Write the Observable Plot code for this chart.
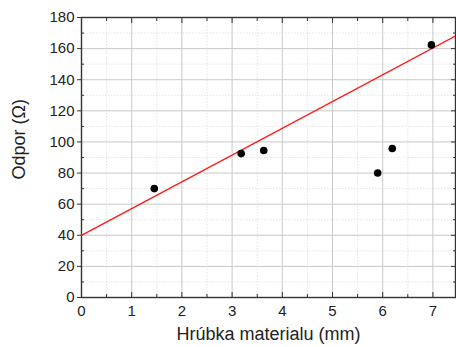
<!DOCTYPE html>
<html>
<head>
<meta charset="utf-8">
<script src="https://cdn.jsdelivr.net/npm/d3@7"></script>
<script src="https://cdn.jsdelivr.net/npm/@observablehq/plot@0.6"></script>
<style>
  html, body { margin: 0; padding: 0; background: #fff; }
  #chart svg { display: block; }
</style>
</head>
<body>
<div id="chart"></div>
<script>
// Data
const thickness = [1.45, 3.18, 3.63, 5.90, 6.19, 6.97];       // Hrúbka materialu (mm)
const resistance = [70, 92.5, 94.5, 80, 95.8, 162.4];         // Odpor (Ω)
const fitX = [0, 7.45];                                        // fit line endpoints (x)
const fitY = [40, 168.1];                                      // fit line endpoints (y)

const xMajor = [0, 1, 2, 3, 4, 5, 6, 7];
const xMinor = [0.5, 1.5, 2.5, 3.5, 4.5, 5.5, 6.5];
const yMajor = [0, 20, 40, 60, 80, 100, 120, 140, 160, 180];
const yMinor = [10, 30, 50, 70, 90, 110, 130, 150, 170];

const xLabel = "Hrúbka materialu (mm)";
const yLabel = "Odpor (Ω)";

const points = thickness.map((x, i) => ({x, y: resistance[i]}));
const fit = fitX.map((x, i) => ({x, y: fitY[i]}));

const chart = Plot.plot({
  width: 456,
  height: 347,
  marginLeft: 81,
  marginRight: 1,
  marginTop: 17,
  marginBottom: 50,
  style: {fontFamily: "'Liberation Sans', Arial, sans-serif", fontSize: "15px", color: "#222", background: "#fff"},
  x: {domain: [0, 7.45]},
  y: {domain: [0, 180]},
  marks: [
    Plot.gridX(xMinor, {stroke: "#ddd", strokeOpacity: 1, strokeDasharray: "1.5,1.5", strokeWidth: 0.8}),
    Plot.gridY(yMinor, {stroke: "#ddd", strokeOpacity: 1, strokeDasharray: "1.5,1.5", strokeWidth: 0.8}),
    Plot.gridX(xMajor, {stroke: "#c8c8c8", strokeOpacity: 1, strokeWidth: 1}),
    Plot.gridY(yMajor, {stroke: "#c8c8c8", strokeOpacity: 1, strokeWidth: 1}),
    // bottom axis: labels + inward major ticks
    Plot.axisX(xMajor, {anchor: "bottom", tickSize: -5, tickPadding: 13, stroke: "#333", label: null, fontSize: 15}),
    Plot.axisX(xMinor, {anchor: "bottom", tickSize: -3, text: null, stroke: "#333", label: null}),
    // top axis: inward ticks
    Plot.axisX(xMajor, {anchor: "top", tickSize: -5, text: null, stroke: "#333", label: null}),
    Plot.axisX(xMinor, {anchor: "top", tickSize: -3, text: null, stroke: "#333", label: null}),
    // left axis: outward major ticks, inward minor
    Plot.axisY(yMajor, {anchor: "left", tickSize: 4, tickPadding: 3, stroke: "#333", label: null, fontSize: 15}),
    Plot.axisY(yMinor, {anchor: "left", tickSize: -3, text: null, stroke: "#333", label: null}),
    // right axis: inward ticks
    Plot.axisY(yMajor, {anchor: "right", tickSize: -5, text: null, stroke: "#333", label: null}),
    Plot.axisY(yMinor, {anchor: "right", tickSize: -3, text: null, stroke: "#333", label: null}),
    Plot.frame({stroke: "#333", strokeWidth: 1.4}),
    Plot.line(fit, {x: "x", y: "y", stroke: "#ff1a1a", strokeWidth: 1.4, clip: true}),
    Plot.dot(points, {x: "x", y: "y", r: 3.8, fill: "#000", stroke: "none"}),
    Plot.text([xLabel], {text: d => d, frameAnchor: "bottom", dy: 42, fontSize: 18, fill: "#222"}),
    Plot.text([yLabel], {text: d => d, frameAnchor: "left", rotate: -90, dx: -62, dy: 22, fontSize: 18, fill: "#222"})
  ]
});
document.getElementById("chart").appendChild(chart);
</script>
</body>
</html>
